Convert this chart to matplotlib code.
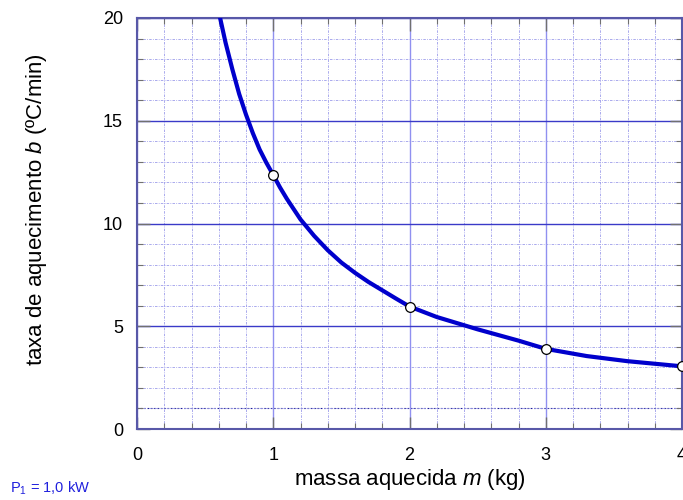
import matplotlib
matplotlib.use("Agg")
import matplotlib.pyplot as plt
from matplotlib.ticker import MultipleLocator

plt.rcParams['font.family'] = ['Liberation Sans', 'DejaVu Sans']
plt.rcParams['mathtext.fontset'] = 'custom'
plt.rcParams['mathtext.rm'] = 'Liberation Sans'
plt.rcParams['mathtext.it'] = 'Liberation Sans:italic'

# curve: mass m (kg) vs heating rate b (C/min)
curve_m = [0.61, 0.65, 0.70, 0.75, 0.80, 0.85, 0.90, 0.95, 1.00, 1.05, 1.10, 1.20, 1.30,
           1.40, 1.50, 1.60, 1.70, 1.80, 1.90, 2.00, 2.20, 2.50, 2.80, 3.00, 3.30, 3.60, 4.00]
curve_b = [20.0, 18.8, 17.5, 16.3, 15.3, 14.4, 13.6, 12.95, 12.36, 11.75, 11.2, 10.2, 9.4,
           8.7, 8.1, 7.6, 7.15, 6.75, 6.35, 5.96, 5.45, 4.85, 4.3, 3.9, 3.55, 3.3, 3.05]

# measured points
pts_m = [1, 2, 3, 4]
pts_b = [12.36, 5.96, 3.9, 3.06]

fig = plt.figure(figsize=(6.83, 5.0), dpi=100)
ax = fig.add_axes([137 / 683, 71 / 500, 545 / 683, 411 / 500])

ax.set_xlim(0, 4)
ax.set_ylim(0, 20)
ax.xaxis.set_major_locator(MultipleLocator(1))
ax.xaxis.set_minor_locator(MultipleLocator(0.2))
ax.yaxis.set_major_locator(MultipleLocator(5))
ax.yaxis.set_minor_locator(MultipleLocator(1))

# grid
ax.grid(which='minor', color='#9c9cea', linestyle=(0, (3, 1.5, 1, 1.5)), linewidth=0.6)
ax.grid(which='major', axis='y', color='#3a3ac8', linestyle='-', linewidth=1.0)
ax.grid(which='major', axis='x', color='#9090f0', linestyle='-', linewidth=1.0)
ax.axhline(1, color='#202090', linestyle=(0, (1.5, 1.5)), linewidth=0.8, zorder=1)

ax.plot(curve_m, curve_b, color='#0000cc', linewidth=3, zorder=3)
ax.plot(pts_m, pts_b, 'o', markersize=7, markerfacecolor='white',
        markeredgecolor='black', markeredgewidth=0.9, zorder=4, clip_on=False)

for s in ax.spines.values():
    s.set_color('#5858a8')
    s.set_linewidth(1.5)

ax.tick_params(which='both', direction='in', top=True, right=True, color='#707070')
ax.tick_params(which='major', length=9, width=1, labelsize=13)
ax.tick_params(which='minor', length=4, width=0.8)
ax.tick_params(axis='x', which='major', pad=13)
ax.tick_params(axis='y', which='major', pad=10)

ax.set_xlabel('massa aquecida $m$ (kg)', fontsize=16, labelpad=2)
ax.set_ylabel('taxa de aquecimento $b$ (ºC/min)', fontsize=16)
ax.yaxis.set_label_coords(-0.162, 0.535)

fig.text(10 / 683, 1 - 488 / 500, 'P$_1$ = 1,0 kW', color='#2020dd', fontsize=10.5,
         va='center', ha='left')

fig.savefig('out.png', dpi=100)
